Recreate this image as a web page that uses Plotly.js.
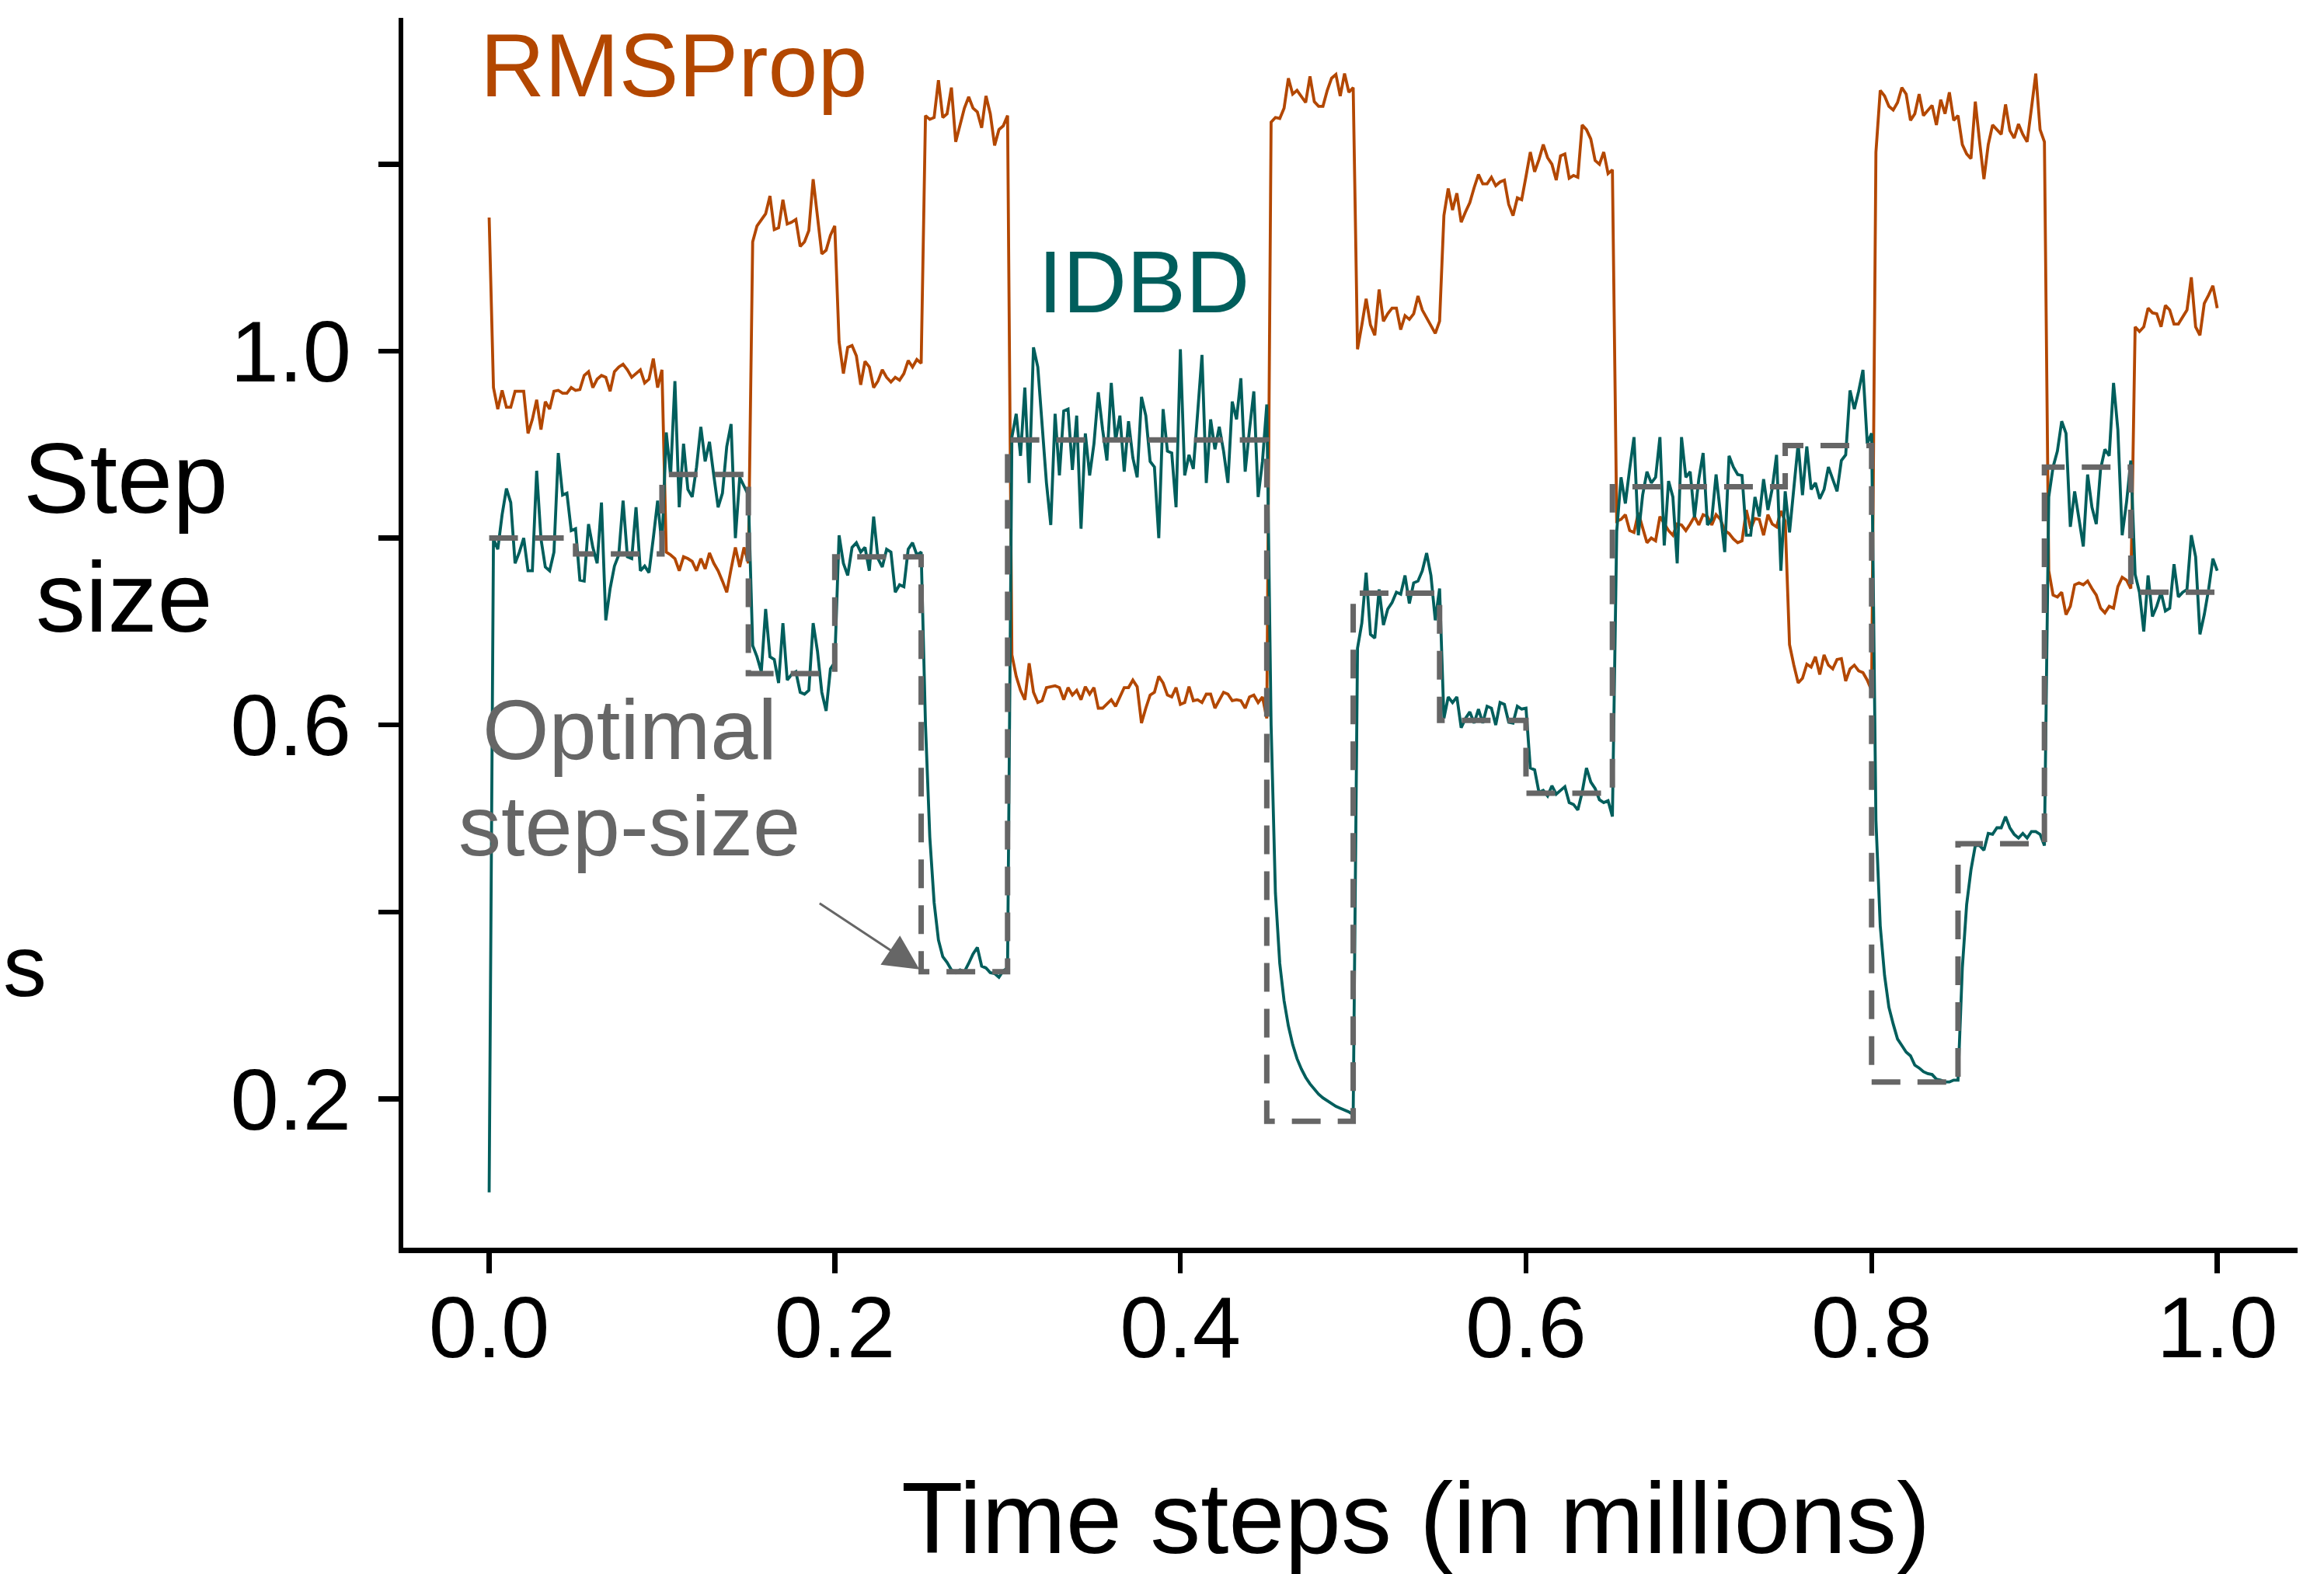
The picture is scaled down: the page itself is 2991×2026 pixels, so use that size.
<!DOCTYPE html>
<html>
<head>
<meta charset="utf-8">
<script src="https://cdn.plot.ly/plotly-3.0.1.min.js"></script>
<style>
  html, body { margin: 0; padding: 0; background: #ffffff; }
  #chart { width: 2991px; height: 2026px; }
</style>
</head>
<body>
<div id="chart"></div>
<script>
// ---- data ----
// sample spacing of both learning curves, in millions of time steps
const sampleStep = 0.0025;

// RMSProp step size, one value per sample (0.0 .. 1.0)
const rmsprop = [
  1.143,
  0.961, 0.938, 0.958, 0.94, 0.94, 0.957, 0.957, 0.957, 0.912, 0.927, 0.948, 0.916, 0.946, 0.938, 0.957, 0.958, 0.955, 0.955, 0.961, 0.958,
  0.959, 0.974, 0.978, 0.961, 0.97, 0.974, 0.972, 0.957, 0.978, 0.983, 0.986, 0.98, 0.972, 0.976, 0.98, 0.966, 0.97, 0.992, 0.961, 0.98,
  0.785, 0.782, 0.778, 0.765, 0.78, 0.778, 0.775, 0.765, 0.778, 0.767, 0.784, 0.773, 0.765, 0.754, 0.742, 0.767, 0.79, 0.769, 0.79, 0.773,
  1.117, 1.134, 1.141, 1.147, 1.166, 1.13, 1.132, 1.162, 1.136, 1.138, 1.141, 1.112, 1.117, 1.129, 1.184, 1.145, 1.104, 1.108, 1.124, 1.134,
  1.01, 0.976, 1.004, 1.006, 0.995, 0.964, 0.989, 0.983, 0.961, 0.968, 0.98, 0.972, 0.967, 0.972, 0.969, 0.976, 0.99, 0.983, 0.991, 0.987,
  1.252, 1.248, 1.25, 1.29, 1.25, 1.254, 1.282, 1.224, 1.243, 1.26, 1.272, 1.26, 1.256, 1.239, 1.273, 1.254, 1.22, 1.237, 1.241, 1.252,
  0.675, 0.652, 0.637, 0.627, 0.666, 0.635, 0.624, 0.626, 0.64, 0.641, 0.642, 0.64, 0.627, 0.64, 0.632, 0.637, 0.627, 0.641, 0.633, 0.64,
  0.618, 0.618, 0.622, 0.627, 0.62, 0.63, 0.64, 0.64, 0.648, 0.641, 0.602, 0.618, 0.632, 0.635, 0.652, 0.645, 0.632, 0.63, 0.64, 0.622,
  0.624, 0.641, 0.626, 0.627, 0.624, 0.633, 0.633, 0.618, 0.626, 0.635, 0.633, 0.626, 0.627, 0.626, 0.618, 0.63, 0.632, 0.624, 0.63, 0.607,
  1.245, 1.25, 1.249, 1.26, 1.292, 1.275, 1.279, 1.273, 1.266, 1.294, 1.267, 1.262, 1.262, 1.279, 1.292, 1.296, 1.273, 1.297, 1.277, 1.282,
  1.002, 1.028, 1.056, 1.028, 1.017, 1.066, 1.032, 1.04, 1.046, 1.046, 1.023, 1.038, 1.034, 1.04, 1.059, 1.044, 1.036, 1.028, 1.019, 1.032,
  1.145, 1.174, 1.151, 1.169, 1.138, 1.149, 1.159, 1.175, 1.189, 1.179, 1.179, 1.186, 1.177, 1.181, 1.183, 1.157, 1.145, 1.164, 1.162, 1.187,
  1.213, 1.192, 1.205, 1.221, 1.207, 1.2, 1.183, 1.209, 1.211, 1.185, 1.188, 1.186, 1.242, 1.237, 1.227, 1.204, 1.2, 1.213, 1.19, 1.194,
  0.818, 0.82, 0.825, 0.808, 0.806, 0.827, 0.81, 0.795, 0.8, 0.797, 0.823, 0.815, 0.808, 0.803, 0.815, 0.814, 0.808, 0.815, 0.823, 0.814,
  0.825, 0.823, 0.814, 0.825, 0.82, 0.808, 0.805, 0.799, 0.795, 0.797, 0.83, 0.81, 0.821, 0.82, 0.803, 0.825, 0.815, 0.812, 0.829, 0.818,
  0.686, 0.664, 0.645, 0.65, 0.665, 0.662, 0.673, 0.654, 0.675, 0.664, 0.66, 0.67, 0.671, 0.647, 0.66, 0.664, 0.658, 0.656, 0.648, 0.637,
  1.213, 1.279, 1.273, 1.262, 1.258, 1.266, 1.282, 1.275, 1.247, 1.254, 1.275, 1.252, 1.257, 1.263, 1.242, 1.269, 1.254, 1.277, 1.247, 1.252,
  1.221, 1.211, 1.206, 1.267, 1.224, 1.184, 1.221, 1.242, 1.237, 1.232, 1.264, 1.236, 1.228, 1.243, 1.232, 1.224, 1.26, 1.297, 1.237, 1.224,
  0.765, 0.739, 0.737, 0.742, 0.718, 0.727, 0.75, 0.752, 0.75, 0.754, 0.746, 0.739, 0.725, 0.72, 0.727, 0.725, 0.748, 0.758, 0.755, 0.746,
  1.026, 1.021, 1.026, 1.046, 1.041, 1.04, 1.026, 1.049, 1.044, 1.029, 1.029, 1.036, 1.044, 1.079, 1.026, 1.017, 1.051, 1.06, 1.07, 1.046
];

// IDBD step size, one value per sample (0.0 .. 1.0)
const idbd = [
  0.1,
  0.799, 0.788, 0.825, 0.853, 0.838, 0.773, 0.785, 0.8, 0.765, 0.765, 0.872, 0.799, 0.769, 0.765, 0.785, 0.891, 0.846, 0.848, 0.808, 0.81,
  0.755, 0.754, 0.815, 0.79, 0.773, 0.838, 0.712, 0.746, 0.77, 0.782, 0.84, 0.78, 0.778, 0.833, 0.765, 0.77, 0.763, 0.8, 0.84, 0.791,
  0.913, 0.867, 0.968, 0.833, 0.901, 0.852, 0.844, 0.876, 0.919, 0.882, 0.903, 0.867, 0.833, 0.848, 0.898, 0.922, 0.8, 0.865, 0.856, 0.846,
  0.685, 0.673, 0.657, 0.724, 0.673, 0.67, 0.645, 0.709, 0.648, 0.654, 0.657, 0.635, 0.633, 0.637, 0.709, 0.679, 0.635, 0.615, 0.66, 0.667,
  0.803, 0.773, 0.76, 0.79, 0.795, 0.785, 0.79, 0.765, 0.823, 0.778, 0.769, 0.788, 0.785, 0.742, 0.75, 0.748, 0.788, 0.795, 0.782, 0.785,
  0.6, 0.48, 0.41, 0.37, 0.352, 0.346, 0.338, 0.335, 0.338, 0.336, 0.345, 0.355, 0.362, 0.342, 0.34, 0.335, 0.334, 0.33, 0.337, 0.34,
  0.908, 0.933, 0.888, 0.961, 0.859, 1.004, 0.983, 0.916, 0.859, 0.814, 0.933, 0.867, 0.936, 0.938, 0.873, 0.931, 0.81, 0.912, 0.867, 0.901,
  0.956, 0.916, 0.883, 0.966, 0.904, 0.931, 0.871, 0.925, 0.886, 0.865, 0.951, 0.931, 0.882, 0.876, 0.8, 0.938, 0.893, 0.891, 0.833, 1.002,
  0.867, 0.889, 0.874, 0.934, 0.996, 0.859, 0.927, 0.895, 0.919, 0.893, 0.859, 0.946, 0.927, 0.971, 0.871, 0.916, 0.957, 0.844, 0.882, 0.943,
  0.6, 0.42, 0.345, 0.305, 0.278, 0.258, 0.243, 0.232, 0.223, 0.216, 0.21, 0.205, 0.201, 0.198, 0.195, 0.192, 0.19, 0.188, 0.186, 0.183,
  0.682, 0.709, 0.763, 0.697, 0.693, 0.745, 0.707, 0.724, 0.731, 0.742, 0.74, 0.76, 0.73, 0.752, 0.754, 0.765, 0.784, 0.76, 0.712, 0.746,
  0.607, 0.63, 0.624, 0.63, 0.597, 0.607, 0.614, 0.602, 0.617, 0.602, 0.62, 0.618, 0.6, 0.624, 0.622, 0.603, 0.602, 0.62, 0.617, 0.618,
  0.554, 0.552, 0.528, 0.53, 0.524, 0.535, 0.526, 0.53, 0.534, 0.517, 0.515, 0.509, 0.528, 0.554, 0.539, 0.532, 0.52, 0.517, 0.519, 0.502,
  0.807, 0.865, 0.837, 0.874, 0.908, 0.803, 0.846, 0.871, 0.859, 0.865, 0.908, 0.792, 0.861, 0.844, 0.773, 0.908, 0.865, 0.871, 0.822, 0.863,
  0.891, 0.814, 0.82, 0.868, 0.829, 0.785, 0.888, 0.876, 0.868, 0.867, 0.803, 0.803, 0.844, 0.823, 0.863, 0.83, 0.853, 0.889, 0.765, 0.85,
  0.806, 0.855, 0.901, 0.846, 0.898, 0.852, 0.859, 0.842, 0.852, 0.876, 0.863, 0.85, 0.883, 0.889, 0.958, 0.938, 0.957, 0.98, 0.901, 0.912,
  0.498, 0.385, 0.332, 0.298, 0.28, 0.264, 0.257, 0.25, 0.246, 0.236, 0.233, 0.229, 0.227, 0.226, 0.221, 0.22, 0.218, 0.218, 0.22, 0.22,
  0.34, 0.408, 0.445, 0.471, 0.471, 0.466, 0.484, 0.483, 0.49, 0.49, 0.502, 0.49, 0.483, 0.479, 0.484, 0.479, 0.486, 0.486, 0.483, 0.471,
  0.844, 0.876, 0.893, 0.925, 0.912, 0.812, 0.85, 0.82, 0.791, 0.868, 0.833, 0.815, 0.874, 0.895, 0.888, 0.966, 0.916, 0.803, 0.838, 0.883,
  0.761, 0.742, 0.7, 0.76, 0.716, 0.727, 0.742, 0.722, 0.725, 0.772, 0.737, 0.742, 0.745, 0.803, 0.78, 0.697, 0.718, 0.745, 0.778, 0.765
];

// optimal step size: piecewise constant between these change points
const optimalBreaks = [0, 0.05, 0.1, 0.15, 0.2, 0.25, 0.3, 0.45, 0.5, 0.55, 0.6, 0.65, 0.75, 0.8, 0.85, 0.9, 0.95, 1.0];
const optimalLevels = [0.8, 0.783, 0.868, 0.655, 0.78, 0.336, 0.905, 0.176, 0.741, 0.605, 0.527, 0.855, 0.899, 0.218, 0.473, 0.876, 0.742];

// axis ticks
const xTickVals = [0, 0.2, 0.4, 0.6, 0.8, 1.0];
const xTickText = ['0.0', '0.2', '0.4', '0.6', '0.8', '1.0'];
const yTickVals = [0.2, 0.4, 0.6, 0.8, 1.0, 1.2];
const yTickText = ['0.2', '', '0.6', '', '1.0', ''];

// ---- styling / layout ----
const W = 2991, H = 2026;
const M = { l: 519, r: 34, t: 23, b: 420 };
const plotW = W - M.l - M.r, plotH = H - M.t - M.b;
const px = (x) => (x - M.l) / plotW;          // pixel -> paper x
const py = (y) => (H - M.b - y) / plotH;      // pixel -> paper y

const COL_RMS = '#b34700';
const COL_IDBD = '#005e5c';
const COL_OPT = '#666666';
const FONT = 'Liberation Sans, Arial, Helvetica, sans-serif';

const tSteps = rmsprop.map((_, i) => +(i * sampleStep).toFixed(4));
const tStepsIdbd = idbd.map((_, i) => +(i * sampleStep).toFixed(4));

const traces = [
  {
    x: tSteps, y: rmsprop, type: 'scatter', mode: 'lines',
    line: { color: COL_RMS, width: 3.8 }, hoverinfo: 'skip', name: 'RMSProp'
  },
  {
    x: tStepsIdbd, y: idbd, type: 'scatter', mode: 'lines',
    line: { color: COL_IDBD, width: 3.8 }, hoverinfo: 'skip', name: 'IDBD'
  },
  {
    x: optimalBreaks, y: optimalLevels.concat([optimalLevels[optimalLevels.length - 1]]),
    type: 'scatter', mode: 'lines',
    line: { color: COL_OPT, width: 7, shape: 'hv', dash: '37px,22px' },
    hoverinfo: 'skip', name: 'Optimal step-size'
  }
];

const axisCommon = {
  showgrid: false, zeroline: false, showline: true,
  linecolor: '#000000', linewidth: 6.5,
  ticks: 'outside', ticklen: 26, tickwidth: 6.5, tickcolor: '#000000',
  tickfont: { family: FONT, size: 112, color: '#000000' },
  tickmode: 'array', fixedrange: true
};

const ann = (text, x, y, opts) => Object.assign({
  text: text, xref: 'paper', yref: 'paper', x: px(x), y: py(y),
  showarrow: false, xanchor: 'center', yanchor: 'middle',
  font: { family: FONT, size: 128, color: '#000000' }
}, opts || {});

const layout = {
  width: W, height: H,
  margin: M,
  paper_bgcolor: '#ffffff', plot_bgcolor: '#ffffff',
  showlegend: false,
  xaxis: Object.assign({}, axisCommon, {
    range: [-0.0497, 1.0465],
    tickvals: xTickVals, ticktext: xTickText,
    ticklabelstandoff: -26
  }),
  yaxis: Object.assign({}, axisCommon, {
    range: [0.0407, 1.3566],
    tickvals: yTickVals, ticktext: yTickText,
    ticklabelstandoff: 12
  }),
  annotations: [
    ann('Step', 161, 615),
    ann('size', 160, 768),
    ann('s', 2, 1243, { xanchor: 'left', font: { family: FONT, size: 112, color: '#000000' } }),
    ann('Time steps (in millions)', 1822, 1954, { font: { family: FONT, size: 130, color: '#000000' } }),
    ann('RMSProp', 616, 84, { xanchor: 'left', font: { family: FONT, size: 115, color: COL_RMS } }),
    ann('IDBD', 1334, 362, { xanchor: 'left', font: { family: FONT, size: 114, color: COL_IDBD } }),
    ann('Optimal', 810, 938, { font: { family: FONT, size: 110, color: COL_OPT } }),
    ann('step-size', 810, 1062, { font: { family: FONT, size: 110, color: COL_OPT } }),
    {
      xref: 'x', yref: 'y', x: 0.249, y: 0.3385, text: '',
      showarrow: true, ax: -130, ay: -86, axref: 'pixel', ayref: 'pixel',
      arrowhead: 2, arrowsize: 3, arrowwidth: 3, arrowcolor: COL_OPT,
      standoff: 0, startstandoff: 0
    }
  ]
};

Plotly.newPlot('chart', traces, layout, { staticPlot: true, displayModeBar: false });
</script>
</body>
</html>
